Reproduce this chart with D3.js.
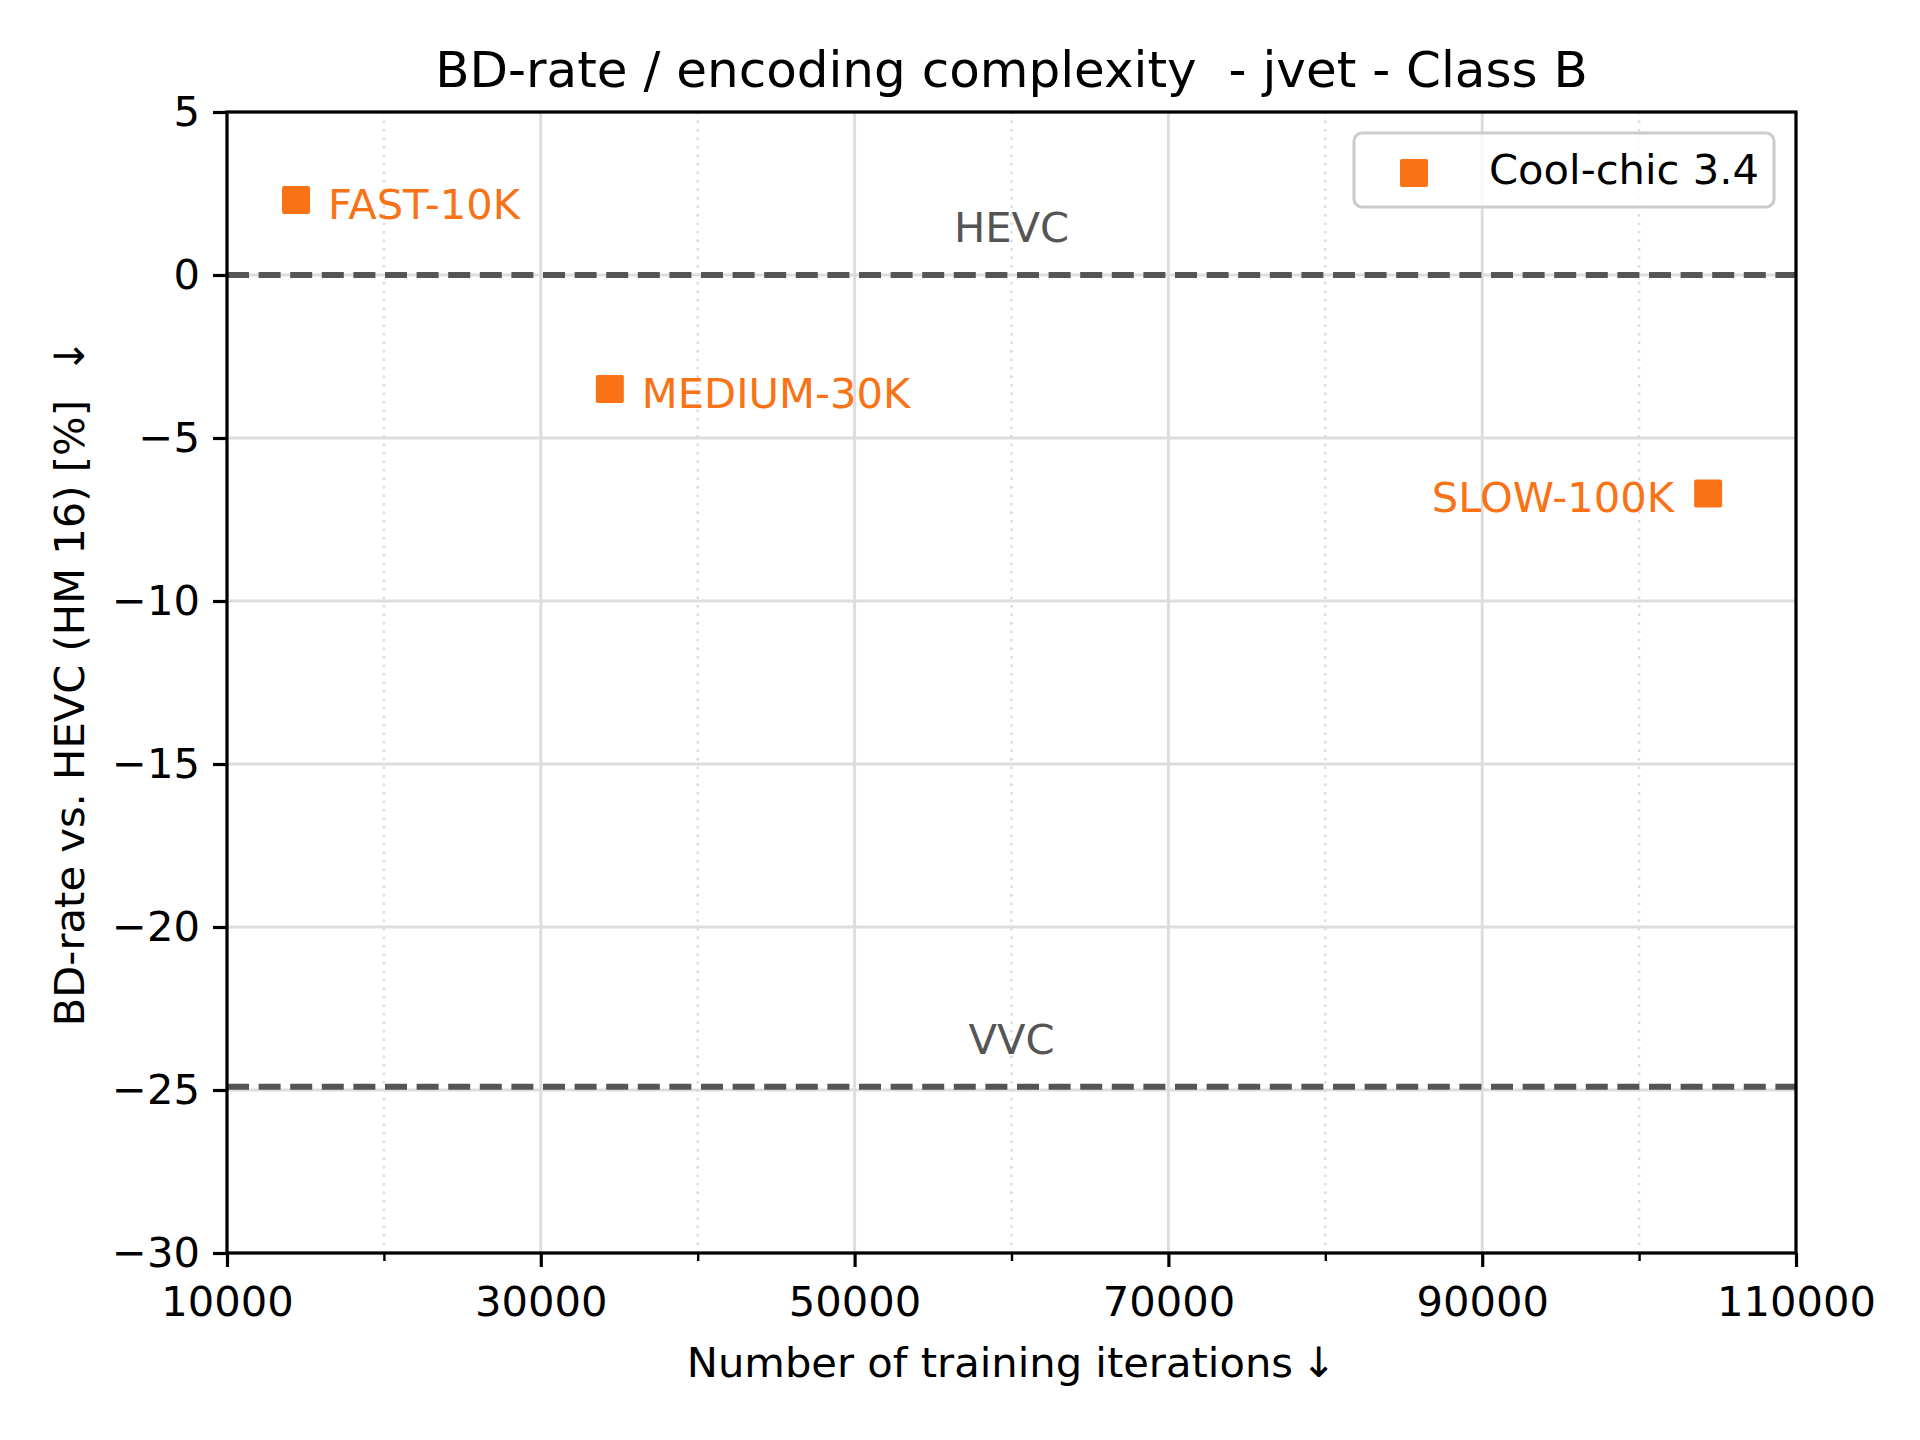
<!DOCTYPE html>
<html>
<head>
<meta charset="utf-8">
<script src="https://cdn.jsdelivr.net/npm/d3@7"></script>
<style>
html,body{margin:0;padding:0;background:#fff;}
svg text{font-family:"DejaVu Sans",sans-serif;white-space:pre;}
</style>
</head>
<body>
<svg id="chart" width="1920" height="1440"></svg>
<script>
// ---- data ----
const presetLabels = ["FAST-10K", "MEDIUM-30K", "SLOW-100K"];
const presetIterations = [14400, 34400, 104400];
const presetBdRate = [2.3, -3.5, -6.7];
const labelSide = ["right", "right", "left"];
const refNames = ["HEVC", "VVC"];
const refValues = [0, -24.9];
const xMajorTicks = [10000, 30000, 50000, 70000, 90000, 110000];
const xMinorTicks = [20000, 40000, 60000, 80000, 100000];
const yTicks = [5, 0, -5, -10, -15, -20, -25, -30];
const legendLabel = "Cool-chic 3.4";
const titleText = "BD-rate / encoding complexity  - jvet - Class B";
const xLabelText = "Number of training iterations\u2009\u2193";
const yLabelText = "BD-rate vs. HEVC (HM 16) [%]  \u2193";

// ---- layout ----
const W = 1920, H = 1440;
const m = {left: 227, right: 1796, top: 112, bottom: 1253};
const orange = "#f97316";
const fs = 41.67;
const svg = d3.select("#chart");
svg.append("rect").attr("width", W).attr("height", H).attr("fill", "#fff");

const x = d3.scaleLinear().domain([10000, 110000]).range([m.left, m.right]);
const y = d3.scaleLinear().domain([-30, 5]).range([m.bottom, m.top]);

const g = svg.append("g");

// minor x grid (dotted)
g.selectAll(".xminor").data(xMinorTicks).enter().append("line")
  .attr("x1", d => x(d)).attr("x2", d => x(d))
  .attr("y1", m.top).attr("y2", m.bottom)
  .attr("stroke", "#dcdcdc").attr("stroke-width", 2.5)
  .attr("stroke-dasharray", "2.5,6");
// major x grid
g.selectAll(".xmajor").data(xMajorTicks).enter().append("line")
  .attr("x1", d => x(d)).attr("x2", d => x(d))
  .attr("y1", m.top).attr("y2", m.bottom)
  .attr("stroke", "#dddddd").attr("stroke-width", 3);
// major y grid
g.selectAll(".ymajor").data(yTicks).enter().append("line")
  .attr("x1", m.left).attr("x2", m.right)
  .attr("y1", d => y(d)).attr("y2", d => y(d))
  .attr("stroke", "#dddddd").attr("stroke-width", 3);

// reference lines
refValues.forEach((v, i) => {
  g.append("line")
    .attr("x1", m.left).attr("x2", m.right)
    .attr("y1", y(v)).attr("y2", y(v))
    .attr("stroke", "#555555").attr("stroke-width", 6)
    .attr("stroke-dasharray", "22,9.6");
  g.append("text")
    .attr("x", x(60000)).attr("y", y(v + 1))
    .attr("text-anchor", "middle")
    .attr("font-size", fs).attr("fill", "#555555")
    .text(refNames[i]);
});

// markers
const ms = 28;
presetLabels.forEach((lab, i) => {
  const cx = x(presetIterations[i]), cy = y(presetBdRate[i]);
  g.append("rect")
    .attr("x", cx - ms / 2).attr("y", cy - ms / 2)
    .attr("width", ms).attr("height", ms).attr("rx", 2)
    .attr("fill", orange);
  const right = labelSide[i] === "right";
  g.append("text")
    .attr("x", right ? cx + 32 : cx - 34)
    .attr("y", cy + 19)
    .attr("text-anchor", right ? "start" : "end")
    .attr("font-size", fs).attr("fill", orange)
    .text(lab);
});

// axes
const xAxis = d3.axisBottom(x).tickValues(xMajorTicks).tickFormat(d3.format("d"))
  .tickSize(14).tickPadding(19);
const xa = svg.append("g").attr("transform", `translate(0,${m.bottom})`).call(xAxis);
xa.select(".domain").remove();
xa.selectAll("line").attr("stroke", "#000").attr("stroke-width", 3.2);
xa.selectAll("text").attr("font-size", fs).attr("fill", "#000")
  .attr("font-family", "DejaVu Sans");

const xMinorAxis = d3.axisBottom(x).tickValues(xMinorTicks).tickFormat("").tickSize(8);
const xma = svg.append("g").attr("transform", `translate(0,${m.bottom})`).call(xMinorAxis);
xma.select(".domain").remove();
xma.selectAll("line").attr("stroke", "#000").attr("stroke-width", 2.4);

const yAxis = d3.axisLeft(y).tickValues(yTicks)
  .tickFormat(d => d < 0 ? "\u2212" + Math.abs(d) : String(d))
  .tickSize(14).tickPadding(13);
const ya = svg.append("g").attr("transform", `translate(${m.left},0)`).call(yAxis);
ya.select(".domain").remove();
ya.selectAll("line").attr("stroke", "#000").attr("stroke-width", 3.2);
ya.selectAll("text").attr("font-size", fs).attr("fill", "#000")
  .attr("font-family", "DejaVu Sans");

// frame
svg.append("rect")
  .attr("x", m.left).attr("y", m.top)
  .attr("width", m.right - m.left).attr("height", m.bottom - m.top)
  .attr("fill", "none").attr("stroke", "#000").attr("stroke-width", 3.2);

// legend
const lg = svg.append("g");
lg.append("rect")
  .attr("x", 1354).attr("y", 133).attr("width", 420).attr("height", 74)
  .attr("rx", 8).attr("fill", "#fff").attr("fill-opacity", 0.8)
  .attr("stroke", "#cccccc").attr("stroke-width", 3.2);
lg.append("rect")
  .attr("x", 1414 - ms / 2).attr("y", 173 - ms / 2)
  .attr("width", ms).attr("height", ms).attr("rx", 2).attr("fill", orange);
lg.append("text")
  .attr("x", 1489).attr("y", 184)
  .attr("font-size", fs).attr("fill", "#000").text(legendLabel);

// title & labels
svg.append("text")
  .attr("x", (m.left + m.right) / 2).attr("y", 87)
  .attr("text-anchor", "middle").attr("font-size", 50).attr("fill", "#000")
  .text(titleText);
svg.append("text")
  .attr("x", (m.left + m.right) / 2).attr("y", 1377)
  .attr("text-anchor", "middle").attr("font-size", fs).attr("fill", "#000")
  .text(xLabelText);
svg.append("text")
  .attr("transform", `translate(84,${(m.top + m.bottom) / 2}) rotate(-90)`)
  .attr("text-anchor", "middle").attr("font-size", fs).attr("fill", "#000")
  .text(yLabelText);
</script>
</body>
</html>
